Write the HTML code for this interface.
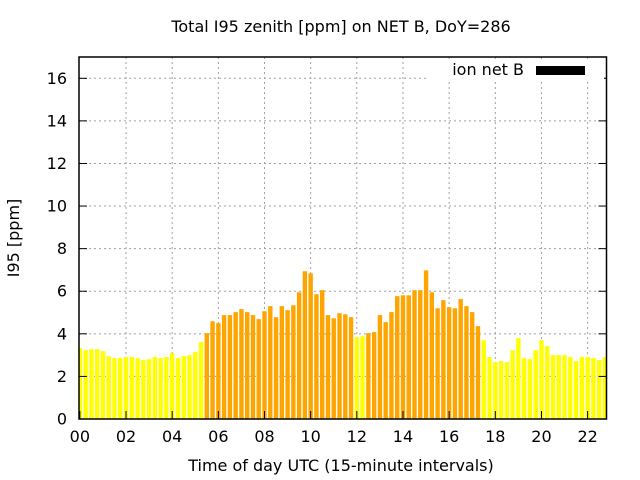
<!DOCTYPE html>
<html><head><meta charset="utf-8"><style>
body{margin:0;background:#fff;}
svg{display:block;font-family:"DejaVu Sans","Liberation Sans",sans-serif;}
</style></head><body>
<svg id="chart" width="640" height="480" viewBox="0 0 640 480" xmlns="http://www.w3.org/2000/svg">
<rect width="640" height="480" fill="#fff"/>
<text x="341" y="32" font-size="16" text-anchor="middle">Total I95 zenith [ppm] on NET B, DoY=286</text>
<text transform="translate(19,238) rotate(-90)" font-size="16" text-anchor="middle">I95 [ppm]</text>
<text x="341" y="471" font-size="16" text-anchor="middle">Time of day UTC (15-minute intervals)</text>
<g id="grid"></g>
<g id="bars"></g>
<g id="axes"></g>
<g>
<rect x="428" y="59" width="176" height="22" fill="#fff"/>
<text x="524" y="75" font-size="16" text-anchor="end">ion net B</text>
<rect x="536" y="66" width="49" height="9" fill="#000"/>
</g>
</svg>
<script>
const values = [3.33,3.23,3.28,3.28,3.19,2.95,2.86,2.86,2.91,2.91,2.86,2.77,2.81,2.91,2.86,2.91,3.09,2.86,2.95,3.0,3.14,3.61,4.03,4.59,4.5,4.88,4.88,5.02,5.16,5.02,4.88,
4.69,5.06,5.30,4.78,5.30,5.11,5.34,5.95,6.94,6.84,5.86,6.05,4.88,4.73,4.97,4.92,4.78,3.84,3.89,4.03,4.08,4.88,4.55,5.02,5.77,5.81,5.81,6.05,6.05,6.98,
5.95,5.20,5.58,5.25,5.20,5.63,5.30,5.02,4.36,3.70,2.91,2.67,2.72,2.67,3.23,3.80,2.86,2.81,3.23,3.70,3.42,3.0,3.0,3.0,2.91,2.72,2.91,2.91,2.86,2.77,2.91];
const yTicks = [0,2,4,6,8,10,12,14,16];
const xTickLabels = ["00","02","04","06","08","10","12","14","16","18","20","22"];
const threshold = 4;

const L=79,R=606.5,T=57,B=419;
const XMIN=-0.15, XMAX=(R-L)/5.77-0.15, YMAX=17;
const xs=i=>L+(i-XMIN)/(XMAX-XMIN)*(R-L);
const ys=v=>B-v/YMAX*(B-T);
const NS="http://www.w3.org/2000/svg";
function mk(tag,attrs,parent){const e=document.createElementNS(NS,tag);for(const k in attrs)e.setAttribute(k,attrs[k]);parent.appendChild(e);return e;}
const grid=document.getElementById('grid'),bars=document.getElementById('bars'),axes=document.getElementById('axes');
yTicks.forEach(v=>{
  const y=ys(v);
  if(v>0&&v<YMAX){const g=mk('line',{x1:L,x2:R,y1:y,y2:y,stroke:'#a0a0a0','stroke-dasharray':'2,3','stroke-width':1},grid);
  
  }
  const t1=mk('line',{x1:L,x2:L+8,y1:y,y2:y,stroke:'#000','stroke-width':1},axes);
  
  
  const t2=mk('line',{x1:R-8,x2:R,y1:y,y2:y,stroke:'#000','stroke-width':1},axes);
  
  
  const tx=mk('text',{x:L-12,y:y+5.5,'font-size':16,'text-anchor':'end'},axes);
  tx.textContent=v;
  
  
});
xTickLabels.forEach((lab,k)=>{
  const x=xs(k*8);
  if(k>0){const g=mk('line',{x1:x,x2:x,y1:T,y2:B,stroke:'#a0a0a0','stroke-dasharray':'2,3','stroke-width':1},grid);
  
  }
  const t=mk('line',{x1:x,x2:x,y1:B,y2:B-8,stroke:'#000','stroke-width':1},axes);
  
  
  const tx=mk('text',{x:x,y:B+23,'font-size':16,'text-anchor':'middle'},axes);
  tx.textContent=lab;
  
  
});
const bw=4.4;
values.forEach((v,i)=>{
  let x0=xs(i)-bw/2,x1=xs(i)+bw/2;
  x0=Math.max(x0,L);x1=Math.min(x1,R);
  if(x1<=x0)return;
  const r=mk('rect',{x:x0,y:ys(v),width:x1-x0,height:B-ys(v),fill:v<threshold?'#ffff00':'#ffa500'},bars);
  
  
});
const f=mk('rect',{x:L,y:T,width:R-L,height:B-T,fill:'none',stroke:'#000','stroke-width':1.5},axes);


</script>
</body></html>
